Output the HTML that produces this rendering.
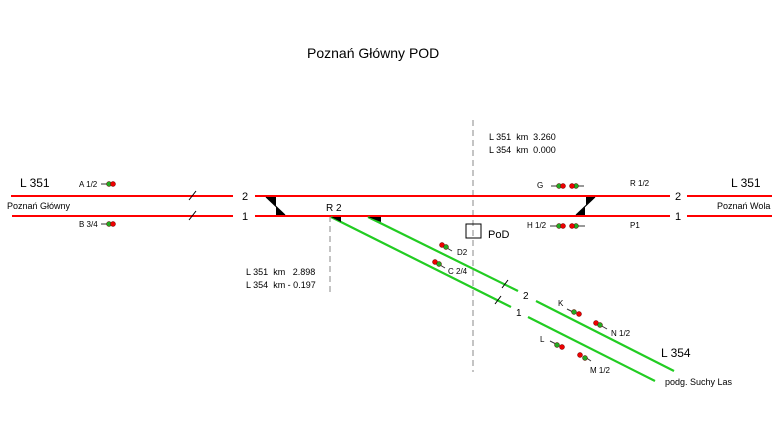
<!DOCTYPE html>
<html><head><meta charset="utf-8"><style>
html,body{margin:0;padding:0;background:#fff}
svg{display:block}
text{font-family:"Liberation Sans",Arial,sans-serif;fill:#000;white-space:pre}
</style></head><body>
<svg width="783" height="427" viewBox="0 0 783 427" xmlns="http://www.w3.org/2000/svg" xml:space="preserve">
<text x="307" y="58" font-size="14">Poznań Główny POD</text>

<line x1="473" y1="120" x2="473" y2="372" stroke="#888" stroke-width="1" stroke-dasharray="6,4"/>
<line x1="330" y1="216" x2="330" y2="296" stroke="#888" stroke-width="1" stroke-dasharray="6,4"/>

<text x="489" y="140" font-size="9">L 351  km  3.260</text>
<text x="489" y="153" font-size="9">L 354  km  0.000</text>
<text x="246" y="275" font-size="9">L 351  km   2.898</text>
<text x="246" y="288" font-size="9">L 354  km - 0.197</text>

<g stroke="#f00" stroke-width="2">
<line x1="11" y1="196" x2="233" y2="196"/>
<line x1="255" y1="196" x2="670" y2="196"/>
<line x1="687" y1="196" x2="772" y2="196"/>
<line x1="12" y1="216" x2="233" y2="216"/>
<line x1="255" y1="216" x2="670" y2="216"/>
<line x1="687" y1="216" x2="772" y2="216"/>
</g>
<g font-size="11">
<text x="242" y="200">2</text><text x="242" y="220">1</text>
<text x="675" y="200">2</text><text x="675" y="220">1</text>
</g>

<g stroke="#000" stroke-width="1.2">
<line x1="266" y1="197" x2="285" y2="215"/>
<line x1="595" y1="197" x2="576" y2="215"/>
</g>
<polygon points="266,197 276,197 276,206" fill="#000"/>
<polygon points="285,215 276,215 276,206" fill="#000"/>
<polygon points="595,197 586,197 586,205" fill="#000"/>
<polygon points="576,215 585,215 585,207" fill="#000"/>

<g stroke="#2c2" stroke-width="2.2">
<line x1="331" y1="217" x2="511" y2="307"/>
<line x1="528" y1="317" x2="655" y2="381"/>
<line x1="368" y1="217" x2="518" y2="291"/>
<line x1="536" y1="301" x2="674" y2="371"/>
</g>
<polygon points="331,217 341,217 341,222" fill="#000"/>
<polygon points="368,217 381,217 381,222" fill="#000"/>
<text x="326" y="211" font-size="10">R 2</text>
<text x="523" y="299" font-size="10">2</text>
<text x="516" y="316" font-size="10">1</text>

<g stroke="#000" stroke-width="1">
<line x1="189" y1="200" x2="196" y2="191"/><line x1="189" y1="220" x2="196" y2="211"/>
<line x1="502" y1="288" x2="508" y2="280"/><line x1="495" y1="304" x2="501" y2="296"/>
</g>

<text x="20" y="187" font-size="12">L 351</text>
<text x="7" y="209" font-size="9">Poznań Główny</text>
<text x="731" y="187" font-size="12">L 351</text>
<text x="717" y="209" font-size="9">Poznań Wola</text>
<text x="661" y="357" font-size="12">L 354</text>
<text x="665" y="385" font-size="9">podg. Suchy Las</text>

<rect x="466" y="224" width="15" height="14" fill="none" stroke="#000"/>
<text x="488" y="238" font-size="11">PoD</text>

<g font-size="8">
<text x="79" y="187">A 1/2</text><text x="79" y="227">B 3/4</text>
<text x="537" y="188">G</text><text x="630" y="186">R 1/2</text>
<text x="527" y="228">H 1/2</text><text x="630" y="228">P1</text>
<text x="457" y="255">D2</text><text x="448" y="274">C 2/4</text>
<text x="558" y="306">K</text><text x="611" y="336">N 1/2</text>
<text x="540" y="342">L</text><text x="590" y="373">M 1/2</text>
</g>

<g stroke="#333" stroke-width="1">
<line x1="101" y1="184" x2="107" y2="184"/><line x1="101" y1="224" x2="107" y2="224"/>
<line x1="551" y1="186" x2="557" y2="186"/><line x1="578" y1="186" x2="584" y2="186"/>
<line x1="550" y1="226" x2="557" y2="226"/><line x1="578" y1="226" x2="585" y2="226"/>
<line x1="447" y1="248" x2="452" y2="251"/><line x1="440" y1="265" x2="445" y2="268"/>
<line x1="567" y1="309" x2="573" y2="312"/><line x1="600" y1="325" x2="607" y2="329"/>
<line x1="550" y1="341" x2="556" y2="344"/><line x1="585" y1="357" x2="591" y2="361"/>
</g>
<g stroke="#600" stroke-width="0.5">
<circle cx="109" cy="184" r="2.5" fill="#2a2"/><circle cx="113" cy="184" r="2.5" fill="#e00"/>
<circle cx="109" cy="224" r="2.5" fill="#2a2"/><circle cx="113" cy="224" r="2.5" fill="#e00"/>
<circle cx="559" cy="186" r="2.5" fill="#2a2"/><circle cx="563" cy="186" r="2.5" fill="#e00"/>
<circle cx="576" cy="186" r="2.5" fill="#2a2"/><circle cx="572" cy="186" r="2.5" fill="#e00"/>
<circle cx="559" cy="226" r="2.5" fill="#2a2"/><circle cx="563" cy="226" r="2.5" fill="#e00"/>
<circle cx="576" cy="226" r="2.5" fill="#2a2"/><circle cx="572" cy="226" r="2.5" fill="#e00"/>
<circle cx="442" cy="245" r="2.5" fill="#e00"/><circle cx="446" cy="247" r="2.5" fill="#2a2"/>
<circle cx="435" cy="262" r="2.5" fill="#e00"/><circle cx="439" cy="264" r="2.5" fill="#2a2"/>
<circle cx="574" cy="312" r="2.5" fill="#2a2"/><circle cx="579" cy="314" r="2.5" fill="#e00"/>
<circle cx="596" cy="323" r="2.5" fill="#e00"/><circle cx="600" cy="325" r="2.5" fill="#2a2"/>
<circle cx="557" cy="345" r="2.5" fill="#2a2"/><circle cx="562" cy="347" r="2.5" fill="#e00"/>
<circle cx="580" cy="355" r="2.5" fill="#e00"/><circle cx="585" cy="358" r="2.5" fill="#2a2"/>
</g>
</svg>
</body></html>
